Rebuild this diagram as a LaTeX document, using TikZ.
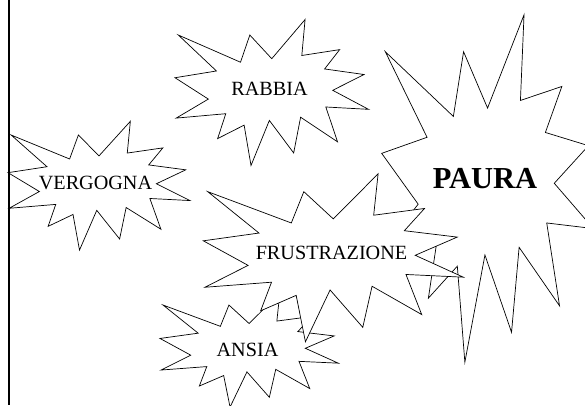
\documentclass[tikz,border=0pt]{standalone}
\usepackage{fontspec}
\setmainfont{Liberation Serif}

% outline of one explosion, in a 100 x 100 box (y downwards)
\newcommand{\blastoutline}{(50,26.85) -- (67.23,0) -- (65.53,24.65) -- (85.09,20.63) -- (77.32,33.87) -- (97.67,37.67) -- (81.51,48.50) -- (100,61.53) -- (77.95,59.92) -- (84.00,83.77) -- (64.91,66.93) -- (61.33,91.38) -- (48.76,69.14) -- (39.28,100) -- (35.72,72.35) -- (22.05,81.56) -- (26.24,64.52) -- (0.63,67.53) -- (17.23,54.51) -- (0,39.88) -- (21.42,35.26) -- (1.71,10.63) -- (33.85,29.26) -- (38.67,10.63) -- cycle}

\begin{document}
\begin{tikzpicture}[
        x=1pt, y=-1pt,
        blast/.style={draw, fill=white, line width=0.7pt, line join=miter, miter limit=25},
        word/.style={inner sep=0pt, font=\fontsize{20.2}{21}\selectfont},
        bigword/.style={inner sep=0pt, font=\fontsize{30.5}{31}\selectfont\bfseries}
    ]
    \clip (0,0) rectangle (585,405);

    \draw[blast, shift={(8,121.3)}, xscale=1.82, yscale=1.288] \blastoutline;
    \draw[blast, shift={(175,19.5)}, xscale=1.935, yscale=1.46] \blastoutline;
    \draw[blast, shift={(381.7,14.8)}, xscale=2.117, yscale=3.474] \blastoutline;
    \draw[blast, shift={(160,292.9)}, xscale=1.783, yscale=1.142] \blastoutline;
    \draw[blast, shift={(203.3,173.8)}, xscale=2.6, yscale=1.68] \blastoutline;

    \node[word] (vergogna) at (95.5,183) {VERGOGNA};
    \node[word] (rabbia) at (269.5,88.5) {RABBIA};
    \node[bigword] (paura) at (485,179) {PAURA};
    \node[word] (frustrazione) at (331.5,253) {FRUSTRAZIONE};
    \node[word] (ansia) at (247.5,350) {ANSIA};

    \draw[line width=2.2pt] (9,0) -- (9,405);
\end{tikzpicture}
\end{document}
